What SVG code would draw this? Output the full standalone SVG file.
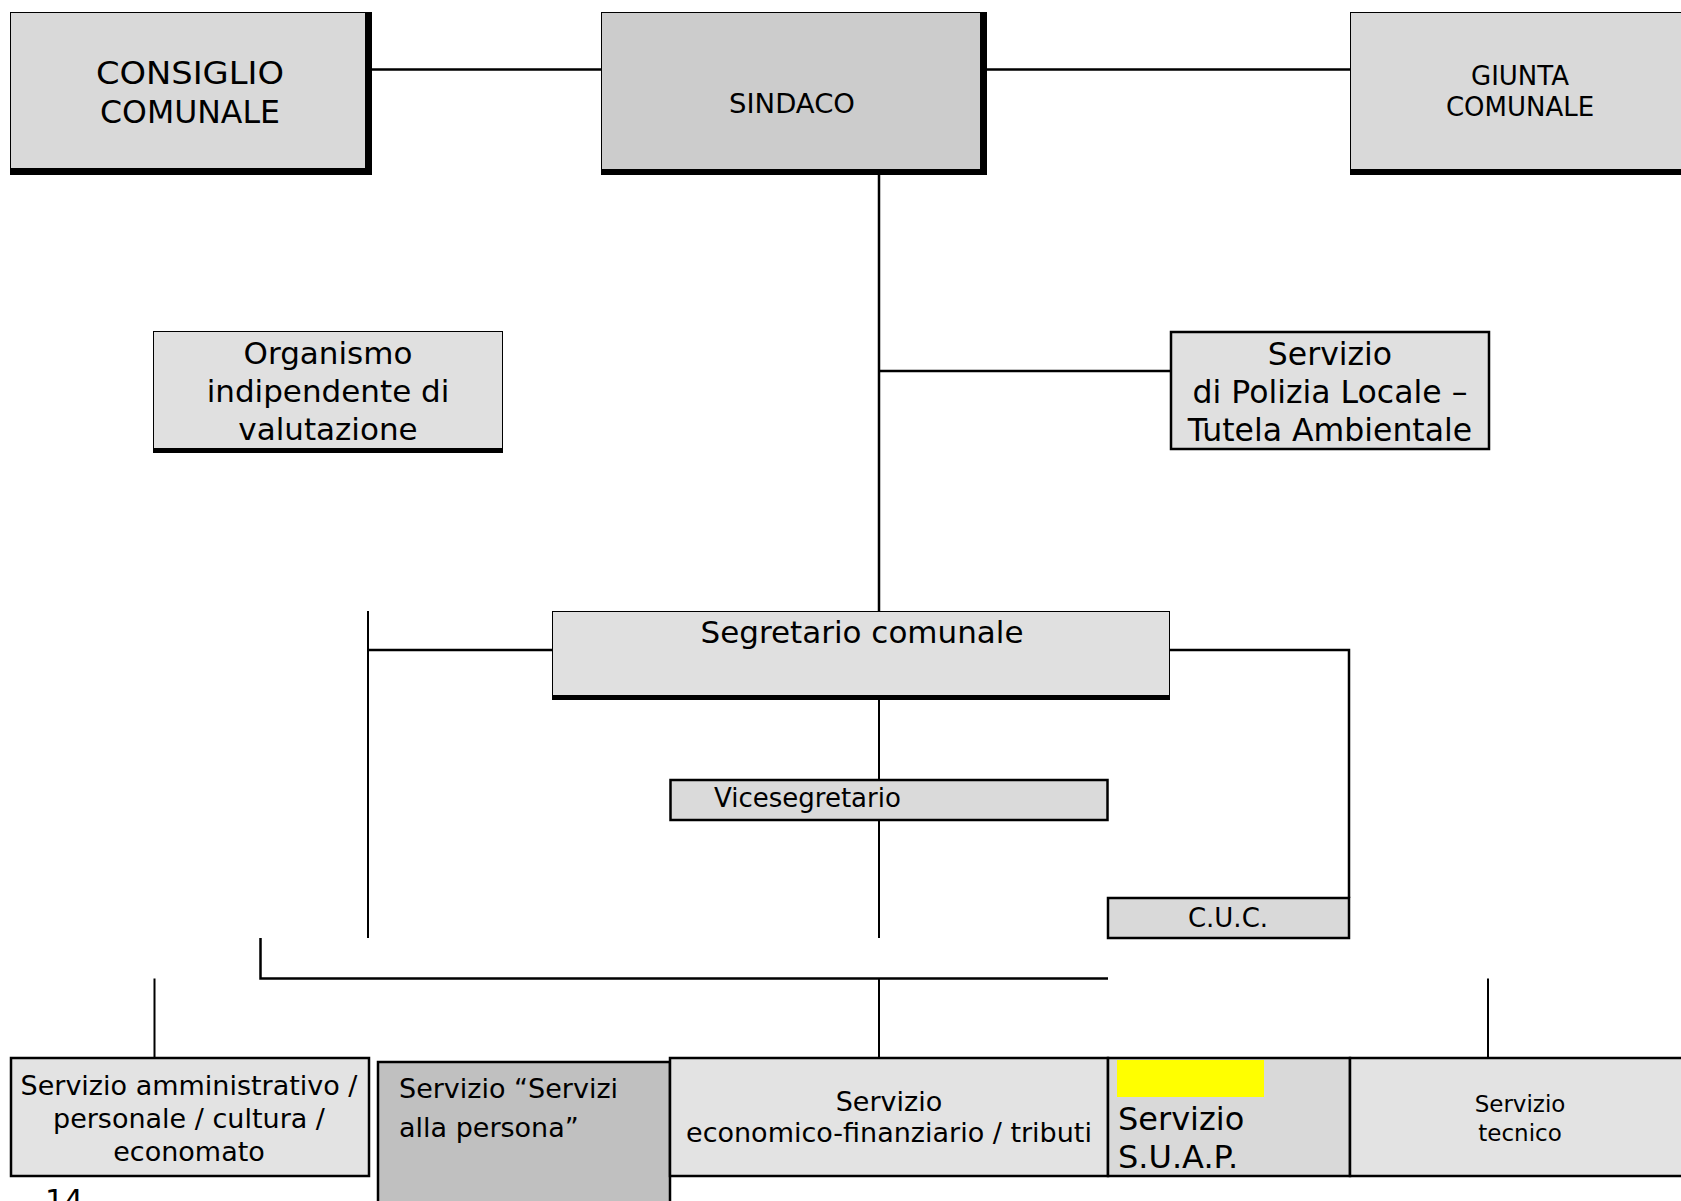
<svg xmlns="http://www.w3.org/2000/svg" width="1681" height="1201" viewBox="0 0 1681 1201">
<style>
.t{font-family:"DejaVu Sans",Verdana,sans-serif;fill:#000}
.c{text-anchor:middle}
.ln{stroke:#000;stroke-width:2.5;fill:none}
.thin{stroke:#000;stroke-width:2;fill:none}
.bx{stroke:#000;stroke-width:2.5}
</style>
<rect width="1681" height="1201" fill="#fff"/>
<g id="connectors">
<path class="ln" d="M372 69.5H601M987 69.5H1350M879 175V611M879 371H1171M1170 650H1349V898M368 650H552M260.5 938V978.5H1108"/>
<path class="thin" d="M368 611V938M879 700V780M879 820V938M154.5 978.5V1058M879 978.5V1058M1488 978.5V1058"/>
</g>
<g id="consiglio">
<rect x="10" y="12" width="362" height="163" fill="#000"/>
<rect x="11" y="13" width="354" height="155" fill="#d9d9d9"/>
<text class="t c" font-size="32" x="190" y="84" textLength="188" lengthAdjust="spacingAndGlyphs">CONSIGLIO</text>
<text class="t c" font-size="32" x="190" y="123" textLength="180" lengthAdjust="spacingAndGlyphs">COMUNALE</text>
</g>
<g id="sindaco">
<rect x="601" y="12" width="386" height="163" fill="#000"/>
<rect x="602" y="13" width="378" height="156" fill="#cccccc"/>
<text class="t c" font-size="26" x="792" y="113" textLength="126" lengthAdjust="spacingAndGlyphs">SINDACO</text>
</g>
<g id="giunta">
<rect x="1350" y="12" width="340" height="163" fill="#000"/>
<rect x="1351" y="13" width="340" height="156" fill="#d9d9d9"/>
<text class="t c" font-size="26" x="1520" y="85">GIUNTA</text>
<text class="t c" font-size="26" x="1520" y="116">COMUNALE</text>
</g>
<g id="organismo">
<rect x="153" y="331" width="350" height="122" fill="#000"/>
<rect x="154" y="332" width="348" height="116" fill="#e0e0e0"/>
<text class="t c" font-size="31" x="328" y="364">Organismo</text>
<text class="t c" font-size="31" x="328" y="402">indipendente di</text>
<text class="t c" font-size="31" x="328" y="440">valutazione</text>
</g>
<g id="polizia">
<rect class="bx" x="1171" y="332" width="318" height="117" fill="#e0e0e0"/>
<text class="t c" font-size="31.5" x="1330" y="365">Servizio</text>
<text class="t c" font-size="31.5" x="1330" y="403">di Polizia Locale –</text>
<text class="t c" font-size="31.5" x="1330" y="441">Tutela Ambientale</text>
</g>
<g id="segretario">
<rect x="552" y="611" width="618" height="89" fill="#000"/>
<rect x="553" y="612" width="616" height="83" fill="#e0e0e0"/>
<text class="t c" font-size="31" x="862" y="643">Segretario comunale</text>
</g>
<g id="vicesegretario">
<rect class="bx" x="670.5" y="780" width="437" height="40" fill="#dadada"/>
<text class="t" font-size="26" x="714" y="807">Vicesegretario</text>
</g>
<g id="cuc">
<rect class="bx" x="1108" y="898" width="241" height="40" fill="#d9d9d9"/>
<text class="t c" font-size="26" x="1228" y="927">C.U.C.</text>
</g>
<g id="amministrativo">
<rect class="bx" x="11" y="1058" width="358" height="118" fill="#e3e3e3"/>
<text class="t c" font-size="27" x="189" y="1095">Servizio amministrativo /</text>
<text class="t c" font-size="27" x="189" y="1128">personale / cultura /</text>
<text class="t c" font-size="27" x="189" y="1161">economato</text>
</g>
<g id="persona">
<rect class="bx" x="378" y="1062" width="292" height="160" fill="#c0c0c0"/>
<text class="t" font-size="27" x="399" y="1098">Servizio “Servizi</text>
<text class="t" font-size="27" x="399" y="1137">alla persona”</text>
</g>
<g id="economico">
<rect class="bx" x="670" y="1058" width="438" height="118" fill="#e3e3e3"/>
<text class="t c" font-size="27" x="889" y="1111">Servizio</text>
<text class="t c" font-size="27" x="889" y="1142">economico-finanziario / tributi</text>
</g>
<g id="suap">
<rect class="bx" x="1108" y="1058" width="242" height="118" fill="#d9d9d9"/>
<rect x="1117" y="1060" width="147" height="37" fill="#ffff00"/>
<text class="t" font-size="32" x="1118" y="1130">Servizio</text>
<text class="t" font-size="32" x="1118" y="1168">S.U.A.P.</text>
</g>
<g id="tecnico">
<rect class="bx" x="1350" y="1058" width="340" height="118" fill="#e3e3e3"/>
<text class="t c" font-size="23" x="1520" y="1112">Servizio</text>
<text class="t c" font-size="23" x="1520" y="1141">tecnico</text>
</g>
<text class="t" font-size="30" x="45" y="1211">14</text>
</svg>
